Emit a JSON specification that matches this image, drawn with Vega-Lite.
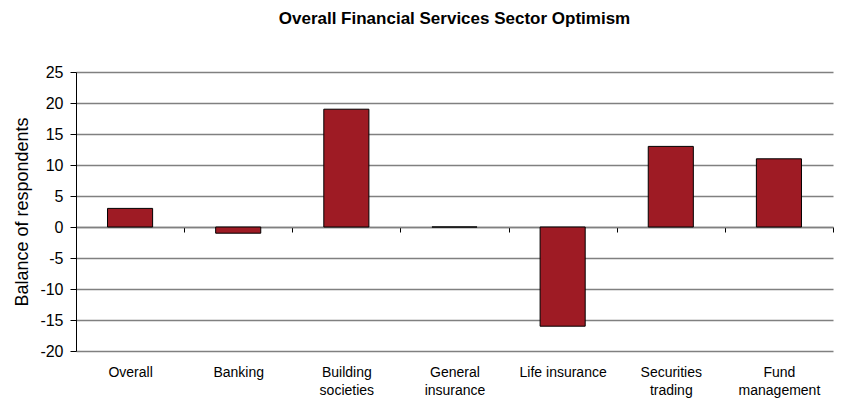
{
  "$schema": "https://vega.github.io/schema/vega-lite/v6.json",
  "autosize": {"type": "none"},
  "width": 757,
  "height": 279,
  "padding": {"left": 76, "top": 72, "right": 9, "bottom": 48},
  "background": "white",
  "title": {
    "text": "Overall Financial Services Sector Optimism",
    "font": "Liberation Sans",
    "fontSize": 17,
    "fontWeight": "bold",
    "color": "#000000",
    "anchor": "middle",
    "offset": 36
  },
  "data": {
    "values": [
      {"sector": "Overall", "balance": 3},
      {"sector": "Banking", "balance": -1},
      {"sector": "Building societies", "balance": 19},
      {"sector": "General insurance", "balance": 0},
      {"sector": "Life insurance", "balance": -16},
      {"sector": "Securities trading", "balance": 13},
      {"sector": "Fund management", "balance": 11}
    ]
  },
  "mark": {"type": "bar", "color": "#9e1b24", "stroke": "#000000", "strokeWidth": 1, "width": {"band": 0.417}},
  "encoding": {
    "x": {
      "field": "sector",
      "type": "nominal",
      "sort": null,
      "scale": {"paddingInner": 0, "paddingOuter": 0},
      "axis": {
        "title": null,
        "labelAngle": 0,
        "labelFont": "Liberation Sans",
        "labelFontSize": 14,
        "labelColor": "#000000",
        "labelLineHeight": 18,
        "labelBaseline": "top",
        "labelExpr": "datum.label == 'Life insurance' || datum.label == 'Overall' || datum.label == 'Banking' ? datum.label : split(datum.label, ' ')",
        "offset": -124,
        "domain": true,
        "domainColor": "#808080",
        "domainWidth": 1.3,
        "ticks": true,
        "tickBand": "extent",
        "tickSize": 5,
        "tickColor": "#000000",
        "labelPadding": 133,
        "grid": false
      }
    },
    "y": {
      "field": "balance",
      "type": "quantitative",
      "scale": {"domain": [-20, 25], "nice": false, "zero": true},
      "axis": {
        "title": "Balance of respondents",
        "titleFont": "Liberation Sans",
        "titleFontSize": 18,
        "titleFontWeight": "normal",
        "titleColor": "#000000",
        "titlePadding": 8,
        "values": [-20, -15, -10, -5, 0, 5, 10, 15, 20, 25],
        "labelExpr": "toString(datum.value)",
        "labelFont": "Liberation Sans",
        "labelFontSize": 16,
        "labelColor": "#000000",
        "labelPadding": 7,
        "tickSize": 6,
        "tickColor": "#000000",
        "domainColor": "#000000",
        "grid": true,
        "gridColor": "#808080",
        "gridWidth": 1.3
      }
    }
  },
  "config": {"view": {"stroke": null}}
}
